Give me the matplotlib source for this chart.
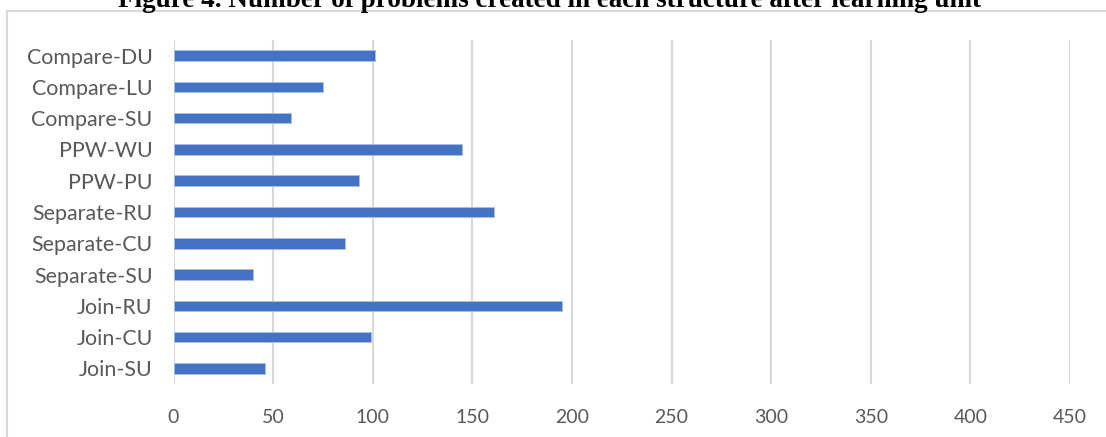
import matplotlib
matplotlib.use("Agg")
import matplotlib.pyplot as plt
from matplotlib.lines import Line2D

# Problems created per structure after each learning unit
categories = ["Join-SU", "Join-CU", "Join-RU", "Separate-SU", "Separate-CU",
              "Separate-RU", "PPW-PU", "PPW-WU", "Compare-SU", "Compare-LU",
              "Compare-DU"]
counts = [46, 99, 195, 40, 86, 161, 93, 145, 59, 75, 101]
x_ticks = [0, 50, 100, 150, 200, 250, 300, 350, 400, 450]

W, H = 1106, 437
fig = plt.figure(figsize=(W / 100, H / 100), dpi=100)

# plot area in pixel coordinates
left, right, top, bottom = 173.5, 1070, 40, 384
ax = fig.add_axes([left / W, 1 - bottom / H, (right - left) / W, (bottom - top) / H])

ax.barh(range(len(categories)), counts, height=0.34, color="#4472C4",
        edgecolor="#a9bfe6", linewidth=0.6, zorder=3)

ax.set_xlim(0, 450)
ax.set_ylim(-0.5, len(categories) - 0.5)
ax.set_xticks(x_ticks)
ax.set_xticklabels([str(t) for t in x_ticks])
ax.set_yticks(range(len(categories)))
ax.set_yticklabels(categories)

font = ["Lato", "DejaVu Sans"]
for lab in ax.get_xticklabels():
    lab.set_family(font)
    lab.set_fontsize(14)
    lab.set_color("#595959")
for lab in ax.get_yticklabels():
    lab.set_family(font)
    lab.set_fontsize(15.4)
    lab.set_color("#595959")

ax.tick_params(axis="both", length=0)
ax.tick_params(axis="x", pad=18)
ax.tick_params(axis="y", pad=15)
ax.grid(axis="x", color="#d9d9d9", linewidth=1.5, zorder=0)
for s in ax.spines.values():
    s.set_visible(False)

# chart frame (top and left edges)
fig.add_artist(Line2D([7 / W, 1], [1 - 11 / H, 1 - 11 / H], color="#d9d9d9",
                      linewidth=1.5, transform=fig.transFigure))
fig.add_artist(Line2D([7 / W, 7 / W], [0, 1 - 11 / H], color="#d9d9d9",
                      linewidth=1.5, transform=fig.transFigure))

fig.text(549 / W, 1 - 7 / H,
         "Figure 4. Number of problems created in each structure after learning unit",
         ha="center", va="baseline", fontsize=19.5, fontweight="bold",
         family=["Liberation Serif", "DejaVu Serif"], color="black")

fig.savefig("out.png", dpi=100)
